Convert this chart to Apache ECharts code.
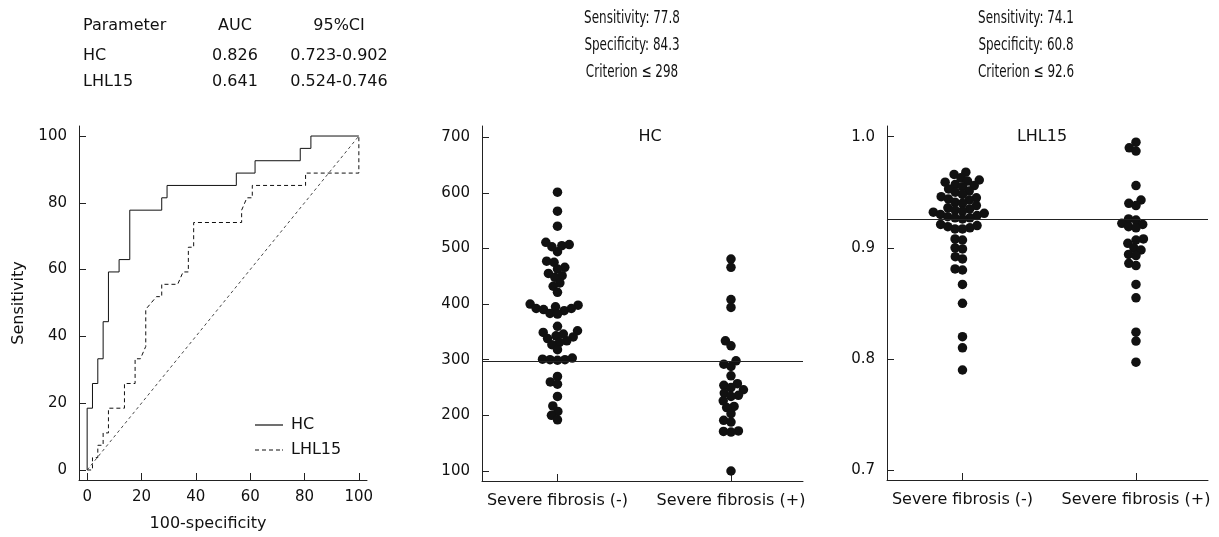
<!DOCTYPE html>
<html><head><meta charset="utf-8">
<script src="https://cdn.jsdelivr.net/npm/echarts@6/dist/echarts.min.js"></script>
<style>html,body{margin:0;padding:0;background:#fff}#c{width:1219px;height:537px}</style>
</head><body><div id="c"></div>
<script>
// ---------- DATA ----------
const rocTicks = [0, 20, 40, 60, 80, 100];
const hcTicks = [100, 200, 300, 400, 500, 600, 700];
const lhlTicks = [0.7, 0.8, 0.9, 1.0];
const groupLabels = ['Severe fibrosis (-)', 'Severe fibrosis (+)'];
const legendNames = ['HC', 'LHL15'];

// ROC curves: 100-specificity (x) and sensitivity (y)
const hcRocX = [0, 0, 1.96, 1.96, 3.92, 3.92, 5.88, 5.88, 7.84, 7.84, 11.76, 11.76, 15.69, 15.69, 27.45, 27.45, 29.41, 29.41, 54.9, 54.9, 61.8, 61.8, 78.43, 78.43, 82.35, 82.35, 100];
const hcRocY = [0, 18.5, 18.5, 25.9, 25.9, 33.3, 33.3, 44.4, 44.4, 59.3, 59.3, 63.0, 63.0, 77.8, 77.8, 81.5, 81.5, 85.2, 85.2, 88.9, 88.9, 92.6, 92.6, 96.3, 96.3, 100, 100];
const lhlRocX = [0, 1.96, 1.96, 3.92, 3.92, 5.88, 5.88, 7.84, 7.84, 13.73, 13.73, 17.65, 17.65, 19.61, 21.57, 21.57, 25.5, 27.45, 27.45, 33.33, 35.3, 37.25, 37.25, 39.2, 39.2, 56.86, 56.86, 58.8, 60.78, 60.78, 80.39, 80.39, 100, 100];
const lhlRocY = [0, 0, 3.7, 3.7, 7.4, 7.4, 11.1, 11.1, 18.5, 18.5, 25.9, 25.9, 33.3, 33.3, 37.0, 48.1, 51.9, 51.9, 55.6, 55.6, 59.3, 59.3, 66.7, 66.7, 74.1, 74.1, 77.8, 81.5, 81.5, 85.2, 85.2, 88.9, 88.9, 100];
const refX = [0, 100];
const refY = [0, 100];

// Dot plots
const hcNeg = [601, 567, 540, 494, 503, 507, 511, 505, 477, 475, 466, 463, 455, 451, 448, 438, 432, 421,
  400, 398, 395, 392, 392, 390, 388, 383, 382, 360, 352, 349, 346, 343, 341, 338, 334, 331, 327, 318,
  303, 301, 300, 300, 299, 270, 260, 256, 234, 217, 207, 200, 192];
const hcPos = [481, 466, 408, 394, 334, 325, 298, 292, 288, 271, 257, 254, 250, 246, 240, 236, 234, 226,
  216, 214, 203, 191, 188, 172, 171, 170, 100];
const lhlNeg = [0.968, 0.966, 0.963, 0.961, 0.960, 0.959, 0.957, 0.956, 0.955, 0.953, 0.951, 0.950, 0.948,
  0.946, 0.945, 0.944, 0.943, 0.941, 0.940, 0.938, 0.936, 0.935, 0.934, 0.933, 0.932, 0.931, 0.930, 0.929,
  0.928, 0.927, 0.927, 0.926, 0.921, 0.920, 0.919, 0.918, 0.917, 0.917, 0.908, 0.907, 0.900, 0.899, 0.892,
  0.890, 0.881, 0.880, 0.867, 0.850, 0.820, 0.810, 0.790];
const lhlPos = [0.995, 0.990, 0.987, 0.956, 0.943, 0.940, 0.938, 0.926, 0.925, 0.922, 0.921, 0.919, 0.918,
  0.908, 0.907, 0.904, 0.900, 0.898, 0.894, 0.893, 0.886, 0.884, 0.867, 0.855, 0.824, 0.816, 0.797];
const hcCut = 298;
const lhlCut = 0.926;

// Header texts
const tableHeader = ['Parameter', 'AUC', '95%CI'];
const tableRows = [['HC', '0.826', '0.723-0.902'], ['LHL15', '0.641', '0.524-0.746']];
const hcStats = ['Sensitivity: 77.8', 'Specificity: 84.3', 'Criterion \u2264 298'];
const lhlStats = ['Sensitivity: 74.1', 'Specificity: 60.8', 'Criterion \u2264 92.6'];
const panelTitles = ['HC', 'LHL15'];

// ---------- LAYOUT ----------
const FONT = 'DejaVu Sans, Verdana, sans-serif';
const NARROW = "'DejaVu Sans Condensed', 'DejaVu Sans', sans-serif";
const INK = '#111';
const grids = [
  {left: 79, top: 126, width: 288, height: 355},
  {left: 482, top: 126, width: 321, height: 355},
  {left: 887, top: 126, width: 321, height: 354}
];
const xr = [0.565, 2.415];
const hcR = [82, 720];
const lhlR = [0.691, 1.0096];

// beeswarm layout computed from values (pixel space -> data units)
function swarm(values, center, grid, yr, d) {
  const pxY = grid.height / (yr[1] - yr[0]);
  const uX = (xr[1] - xr[0]) / grid.width;
  const order = values.map((v, i) => i).sort((a, b) => values[a] - values[b]);
  const placed = [];
  const out = new Array(values.length);
  order.forEach(i => {
    const y = values[i] * pxY;
    const near = placed.filter(p => Math.abs(p.y - y) < d);
    const cands = [0];
    near.forEach(p => {
      const dx = Math.sqrt(d * d - (p.y - y) * (p.y - y));
      cands.push(p.x + dx, p.x - dx);
    });
    cands.sort((a, b) => (Math.abs(a) - Math.abs(b)) || (a - b));
    const x = cands.find(c => near.every(p => (p.x - c) * (p.x - c) + (p.y - y) * (p.y - y) >= d * d - 1e-6));
    placed.push({x, y});
    out[i] = [center + x * uX, values[i]];
  });
  return out;
}

const axisBase = {
  axisLine: {onZero: false, lineStyle: {color: '#222', width: 1}},
  axisTick: {inside: true, length: 7, lineStyle: {color: '#222', width: 1}},
  splitLine: {show: false},
  axisLabel: {color: INK, fontFamily: FONT, fontSize: 15}
};
function ax(extra) {
  const a = JSON.parse(JSON.stringify(axisBase));
  Object.keys(extra).forEach(k => {
    if (typeof extra[k] === 'object' && !Array.isArray(extra[k]) && a[k]) Object.assign(a[k], extra[k]);
    else a[k] = extra[k];
  });
  return a;
}
const zip = (xs, ys) => xs.map((x, i) => [x, ys[i]]);

const xAxes = [
  ax({type: 'value', gridIndex: 0, min: -3, max: 103,
    axisLabel: {customValues: rocTicks, margin: 10}, axisTick: {customValues: rocTicks},
    name: '100-specificity', nameLocation: 'middle', nameGap: 36,
    nameTextStyle: {color: INK, fontFamily: FONT, fontSize: 16, padding: [0, 30, 0, 0]}}),
  ax({type: 'value', gridIndex: 1, min: xr[0], max: xr[1],
    axisLabel: {customValues: [1, 2], margin: 12, fontSize: 16, formatter: v => groupLabels[Math.round(v) - 1]},
    axisTick: {customValues: [1, 2]}}),
  ax({type: 'value', gridIndex: 2, min: xr[0], max: xr[1],
    axisLabel: {customValues: [1, 2], margin: 12, fontSize: 16, formatter: v => groupLabels[Math.round(v) - 1]},
    axisTick: {customValues: [1, 2]}})
];
const yAxes = [
  ax({type: 'value', gridIndex: 0, min: -3, max: 103,
    axisLabel: {customValues: rocTicks, margin: 12}, axisTick: {customValues: rocTicks},
    name: 'Sensitivity', nameLocation: 'middle', nameGap: 52,
    nameTextStyle: {color: INK, fontFamily: FONT, fontSize: 16}}),
  ax({type: 'value', gridIndex: 1, min: hcR[0], max: hcR[1],
    axisLabel: {customValues: hcTicks, margin: 12}, axisTick: {customValues: hcTicks}}),
  ax({type: 'value', gridIndex: 2, min: lhlR[0], max: lhlR[1],
    axisLabel: {customValues: lhlTicks, margin: 12, formatter: v => v.toFixed(1)}, axisTick: {customValues: lhlTicks}})
];

const dot = {type: 'scatter', symbol: 'circle', symbolSize: 9.5, itemStyle: {color: INK, opacity: 1}, silent: true};
const cutLine = v => ({silent: true, symbol: 'none', precision: 4, label: {show: false},
  lineStyle: {color: '#222', width: 1, type: 'solid'}, data: [{yAxis: v}]});

const series = [
  {name: legendNames[0], type: 'line', xAxisIndex: 0, yAxisIndex: 0, data: zip(hcRocX, hcRocY),
    symbol: 'none', lineStyle: {color: INK, width: 1}, itemStyle: {color: INK}},
  {name: legendNames[1], type: 'line', xAxisIndex: 0, yAxisIndex: 0, data: zip(lhlRocX, lhlRocY),
    symbol: 'none', lineStyle: {color: INK, width: 1, type: [4, 3]}, itemStyle: {color: INK}},
  {name: 'ref', type: 'line', xAxisIndex: 0, yAxisIndex: 0, data: zip(refX, refY),
    symbol: 'none', lineStyle: {color: '#333', width: 0.9, type: [3, 3]}},
  Object.assign({}, dot, {xAxisIndex: 1, yAxisIndex: 1, data: swarm(hcNeg, 1, grids[1], hcR, 7.5), markLine: cutLine(hcCut)}),
  Object.assign({}, dot, {xAxisIndex: 1, yAxisIndex: 1, data: swarm(hcPos, 2, grids[1], hcR, 7.5)}),
  Object.assign({}, dot, {xAxisIndex: 2, yAxisIndex: 2, data: swarm(lhlNeg, 1, grids[2], lhlR, 7.5), markLine: cutLine(lhlCut)}),
  Object.assign({}, dot, {xAxisIndex: 2, yAxisIndex: 2, data: swarm(lhlPos, 2, grids[2], lhlR, 7.5)})
];

const graphics = [];
const tx = (text, x, y, align, font, size, sx) => graphics.push({type: 'text', x, y, scaleX: sx || 1,
  style: {text, fill: INK, font: size + 'px ' + font, textAlign: align, textVerticalAlign: 'middle'}});
const colX = [83, 235, 339];
const colA = ['left', 'center', 'center'];
tableHeader.forEach((t, i) => tx(t, colX[i], 26, colA[i], FONT, 16));
tableRows.forEach((r, j) => r.forEach((t, i) => tx(t, colX[i], 56 + j * 26, colA[i], FONT, 16)));
hcStats.forEach((t, j) => tx(t, 632, 18 + j * 27, 'center', NARROW, 17.5, 0.76));
lhlStats.forEach((t, j) => tx(t, 1026, 18 + j * 27, 'center', NARROW, 17.5, 0.76));
tx(panelTitles[0], 650, 137, 'center', FONT, 16);
tx(panelTitles[1], 1042, 137, 'center', FONT, 16);

const solidIcon = 'path://M0,0H28V1.2H0Z';
const dashIcon = 'path://M0,0H4V1.2H0Z M7,0H11V1.2H7Z M14,0H18V1.2H14Z M21,0H25V1.2H21Z M27,0H28V1.2H27Z';

const chart = echarts.init(document.getElementById('c'), null, {renderer: 'canvas'});
chart.setOption({
  backgroundColor: '#fff',
  animation: false,
  grid: grids,
  xAxis: xAxes,
  yAxis: yAxes,
  legend: {data: [{name: legendNames[0], icon: solidIcon}, {name: legendNames[1], icon: dashIcon}],
    orient: 'vertical', left: 250, top: 412, itemWidth: 28, itemHeight: 1.2,
    itemGap: 9, symbolKeepAspect: false,
    itemStyle: {color: INK, borderWidth: 0}, lineStyle: {width: 0},
    textStyle: {color: INK, fontFamily: FONT, fontSize: 16, padding: [0, 0, 0, 3]}},
  series,
  graphic: graphics
});
</script></body></html>
